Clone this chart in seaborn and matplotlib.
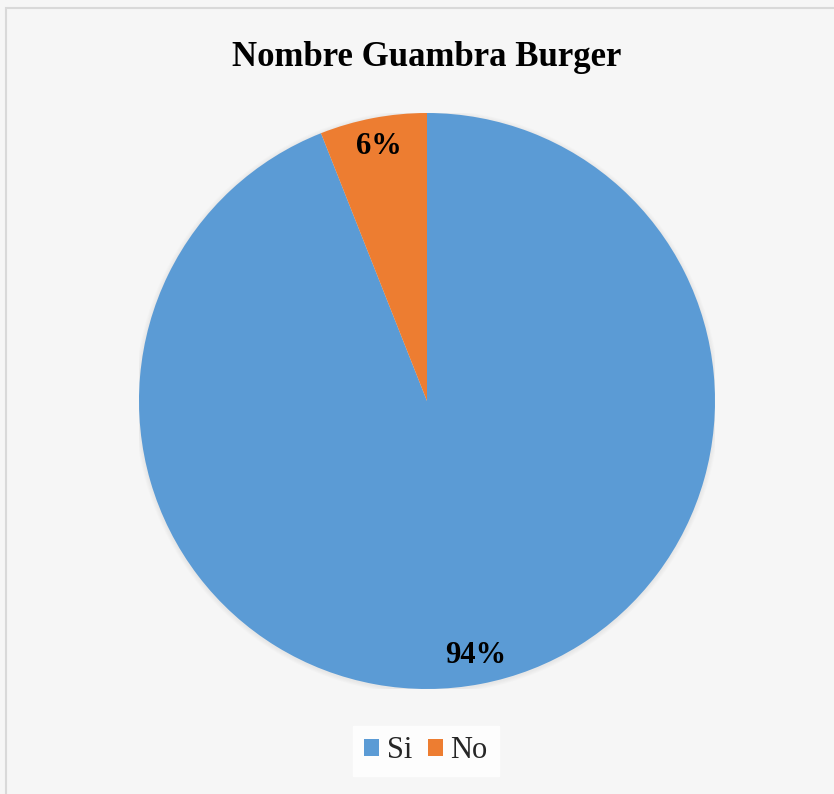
import matplotlib
matplotlib.use("Agg")
import matplotlib.pyplot as plt
from matplotlib.patches import Circle, Rectangle
import seaborn as sns

categories = ["Si", "No"]
shares = [94, 6]
slice_colors = ["#5B9BD5", "#ED7D31"]
title_text = "Nombre Guambra Burger"

sns.set_theme(style="white")
plt.rcParams["font.family"] = ["Liberation Serif", "DejaVu Serif"]

W, H = 834, 794
fig = plt.figure(figsize=(W / 100, H / 100), dpi=100, facecolor="#f6f6f6")

# frame around the chart area
fig.add_artist(Rectangle((6 / W, -0.05), 1.1, 1 - 8 / H + 0.05,
                         transform=fig.transFigure, facecolor="none",
                         edgecolor="#d9d9d9", linewidth=1.5))

cx, cy, r = 427, H - 401, 288
ax = fig.add_axes([(cx - r) / W, (cy - r) / H, 2 * r / W, 2 * r / H])
ax.set_aspect("equal")
ax.axis("off")

# soft shadow under the pie
for k in range(5):
    ax.add_patch(Circle((0.0, -0.003), 1.0 + 0.003 * (k + 1), facecolor="#999999",
                        alpha=0.03, edgecolor="none", zorder=0))

wedges, texts, autotexts = ax.pie(
    shares, colors=slice_colors, startangle=90, counterclock=False,
    radius=1.0, autopct=lambda p: f"{p:.0f}%", pctdistance=0.9,
    textprops=dict(fontsize=22, fontweight="bold", color="black"),
    wedgeprops=dict(linewidth=0), frame=False,
)
for w in wedges:
    w.set_zorder(2)
for t in autotexts:
    t.set_zorder(3)
ax.set_xlim(-1, 1)
ax.set_ylim(-1, 1)

fig.text(cx / W, 1 - 58 / H, title_text, ha="center", va="center",
         fontsize=25, fontweight="bold", color="black")

leg = fig.legend(wedges, categories, loc="center", bbox_to_anchor=(426 / W, 1 - 751 / H),
                 ncol=2, frameon=True, fancybox=False, fontsize=22,
                 handlelength=0.5, handleheight=0.5, handletextpad=0.25,
                 columnspacing=0.5, borderpad=0.35, borderaxespad=0)
leg.get_frame().set_facecolor("white")
leg.get_frame().set_edgecolor("white")

fig.savefig("out.png", dpi=100, facecolor=fig.get_facecolor())
